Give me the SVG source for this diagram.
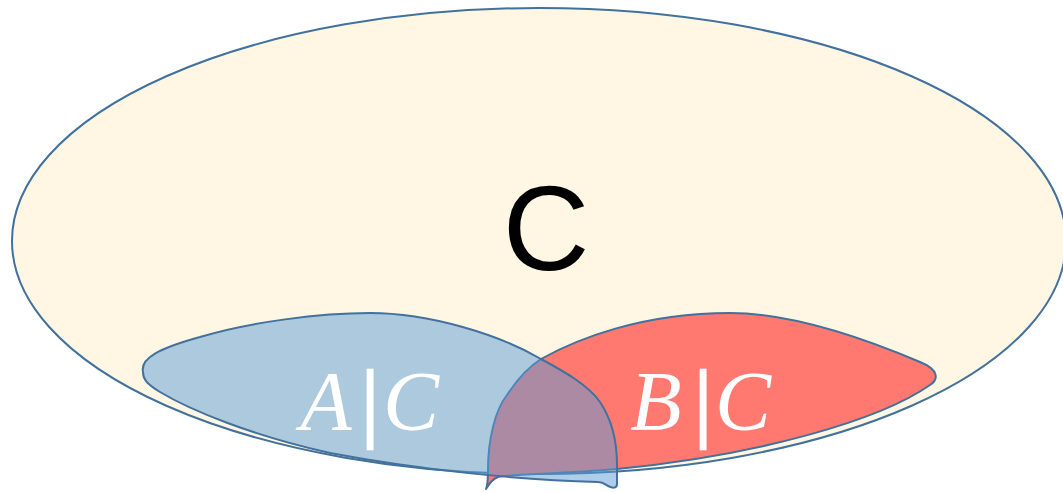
<svg xmlns="http://www.w3.org/2000/svg" width="1063" height="492" viewBox="0 0 1063 492">
  <style>
    .outline { stroke: #41719C; stroke-width: 2; stroke-linejoin: round; }
    .lbl { font-family: "Liberation Serif", "DejaVu Serif", serif; font-style: italic; font-size: 84px; fill: #FFFFFF; text-anchor: middle; }
    .bar { font-family: "Liberation Serif", "DejaVu Serif", serif; font-style: normal; font-size: 86px; fill: #FFFFFF; stroke: #FFFFFF; stroke-width: 2.5; text-anchor: middle; }
  </style>
  <rect width="1063" height="492" fill="#FFFFFF"/>
  <g id="C">
    <ellipse class="outline" cx="539" cy="241" rx="527" ry="233" fill="#FFF7E4"/>
    <text x="546" y="270" font-family="'Liberation Sans', Arial, sans-serif" font-size="120" fill="#000000" text-anchor="middle">C</text>
  </g>
  <g id="BgivenC">
    <path class="outline" fill="#FF7970" d="M 486,489 C 488,484 488,478 488,470 C 488,440 495,410 507,395 C 518,378 530,366 541,359 C 575,340 640,313 730,313 C 800,313 880,345 920,362 C 940,370 938,380 930,385 C 880,420 760,455 617,469 C 560,474 510,474 498,477 C 492,479 489,484 486,489 Z"/>
  </g>
  <g id="AgivenC">
    <path class="outline" fill="#5B9BD5" fill-opacity="0.5" d="M 143,372 C 140,358 160,348 200,337 C 250,322 320,313 370,313 C 430,313 500,335 541,359 C 565,372 588,385 600,402 C 612,420 617,440 617,465 L 617,484 C 617,489 612,488 608,486 C 605,484 603,482 598,482 C 520,480 420,470 330,453 C 250,435 190,410 160,392 C 145,383 143,378 143,372 Z"/>
  </g>
  <g id="labels">
    <text class="lbl" x="326" y="430">A</text>
    <text class="bar" x="370" y="430">|</text>
    <text class="lbl" x="411" y="430">C</text>
    <text class="lbl" x="656" y="430">B</text>
    <text class="bar" x="703" y="430">|</text>
    <text class="lbl" x="743" y="430">C</text>
  </g>
  <g id="connectors"></g>
</svg>
